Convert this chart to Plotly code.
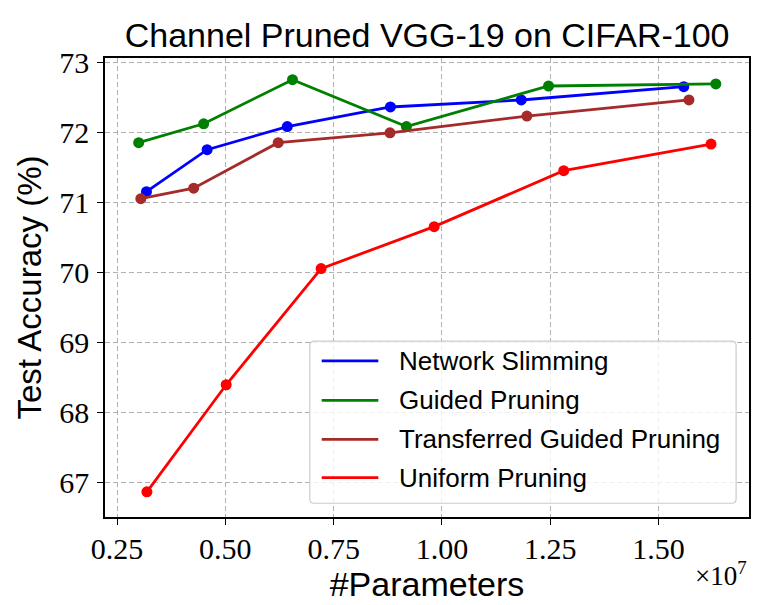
import plotly.graph_objects as go

# x values are #parameters in units of 1e7
x_ns = [0.318, 0.458, 0.643, 0.881, 1.183, 1.558]
y_ns = [71.16, 71.76, 72.09, 72.37, 72.47, 72.66]

x_gp = [0.300, 0.450, 0.655, 0.918, 1.246, 1.632]
y_gp = [71.86, 72.13, 72.76, 72.09, 72.67, 72.70]

x_tgp = [0.305, 0.427, 0.622, 0.880, 1.196, 1.570]
y_tgp = [71.06, 71.21, 71.86, 72.00, 72.24, 72.47]

x_up = [0.319, 0.502, 0.721, 0.982, 1.281, 1.621]
y_up = [66.87, 68.40, 70.06, 70.66, 71.46, 71.84]

x_ticks = [0.25, 0.50, 0.75, 1.00, 1.25, 1.50]
y_ticks = [67, 68, 69, 70, 71, 72, 73]

series_names = ['Network Slimming', 'Guided Pruning',
                'Transferred Guided Pruning', 'Uniform Pruning']
series_colors = ['#0000ff', '#008000', '#a52a2a', '#ff0000']
series_x = [x_ns, x_gp, x_tgp, x_up]
series_y = [y_ns, y_gp, y_tgp, y_up]

SANS = 'Liberation Sans, Arial, sans-serif'
SERIF = 'Liberation Serif, Times New Roman, serif'

fig = go.Figure()

for name, xs, ys, color in zip(series_names, series_x, series_y, series_colors):
    fig.add_trace(go.Scatter(
        x=xs, y=ys, mode='lines+markers', name=name,
        line=dict(color=color, width=2.8),
        marker=dict(color=color, size=11),
        showlegend=False,
    ))

fig.update_layout(
    width=762, height=605,
    margin=dict(l=97, r=21, t=50, b=96),
    plot_bgcolor='white',
    paper_bgcolor='white',
    showlegend=False,
    title=dict(
        text='Channel Pruned VGG-19 on CIFAR-100',
        x=0.55, xanchor='center', y=0.955, yanchor='middle',
        font=dict(family=SANS, size=34, color='black'),
    ),
)

fig.update_xaxes(
    range=[0.2223, 1.7086],
    tickvals=x_ticks,
    ticktext=['%.2f' % v for v in x_ticks],
    ticks='outside', ticklen=6, tickcolor='black', tickwidth=1.2,
    tickfont=dict(family=SERIF, size=30, color='black'),
    ticklabelstandoff=-2,
    showline=True, linecolor='black', linewidth=1.6, mirror=True,
    showgrid=True, gridcolor='#b0b0b0', griddash='5px,3px', gridwidth=1,
    zeroline=False, automargin=False,
    title=dict(text='#Parameters', font=dict(family=SANS, size=34, color='black'), standoff=4),
)

fig.update_yaxes(
    range=[66.51, 73.07],
    tickvals=y_ticks,
    ticks='outside', ticklen=6, tickcolor='black', tickwidth=1.2,
    tickfont=dict(family=SERIF, size=30, color='black'),
    ticklabelstandoff=2,
    showline=True, linecolor='black', linewidth=1.6, mirror=True,
    showgrid=True, gridcolor='#b0b0b0', griddash='5px,3px', gridwidth=1,
    zeroline=False, automargin=False,
    title=dict(text='Test Accuracy (%)', font=dict(family=SANS, size=33, color='black'), standoff=8),
)

fig.add_annotation(
    text='×10<sup>7</sup>', xref='paper', yref='paper',
    x=1.0, y=-0.125, xanchor='right', yanchor='middle',
    showarrow=False,
    font=dict(family=SERIF, size=27, color='black'),
)

# matplotlib-style legend box (lines only, rounded frame), lower right
x0, x1, y0, y1 = 0.318, 0.980, 0.030, 0.383
rx, ry = 0.007, 0.010
frame = (f'M{x0 + rx},{y0} L{x1 - rx},{y0} Q{x1},{y0} {x1},{y0 + ry} '
         f'L{x1},{y1 - ry} Q{x1},{y1} {x1 - rx},{y1} '
         f'L{x0 + rx},{y1} Q{x0},{y1} {x0},{y1 - ry} '
         f'L{x0},{y0 + ry} Q{x0},{y0} {x0 + rx},{y0} Z')
fig.add_shape(type='path', path=frame, xref='paper', yref='paper',
              fillcolor='rgba(255,255,255,0.8)',
              line=dict(color='#cccccc', width=1.2))

row_y = [0.340, 0.254, 0.169, 0.086]
for name, color, ry_ in zip(series_names, series_colors, row_y):
    fig.add_shape(type='line', xref='paper', yref='paper',
                  x0=0.3365, x1=0.4244, y0=ry_, y1=ry_,
                  line=dict(color=color, width=2.8))
    fig.add_annotation(text=name, xref='paper', yref='paper',
                       x=0.4534, y=ry_, xanchor='left', yanchor='middle',
                       showarrow=False,
                       font=dict(family=SANS, size=26, color='black'))

fig.write_html('out.html')
